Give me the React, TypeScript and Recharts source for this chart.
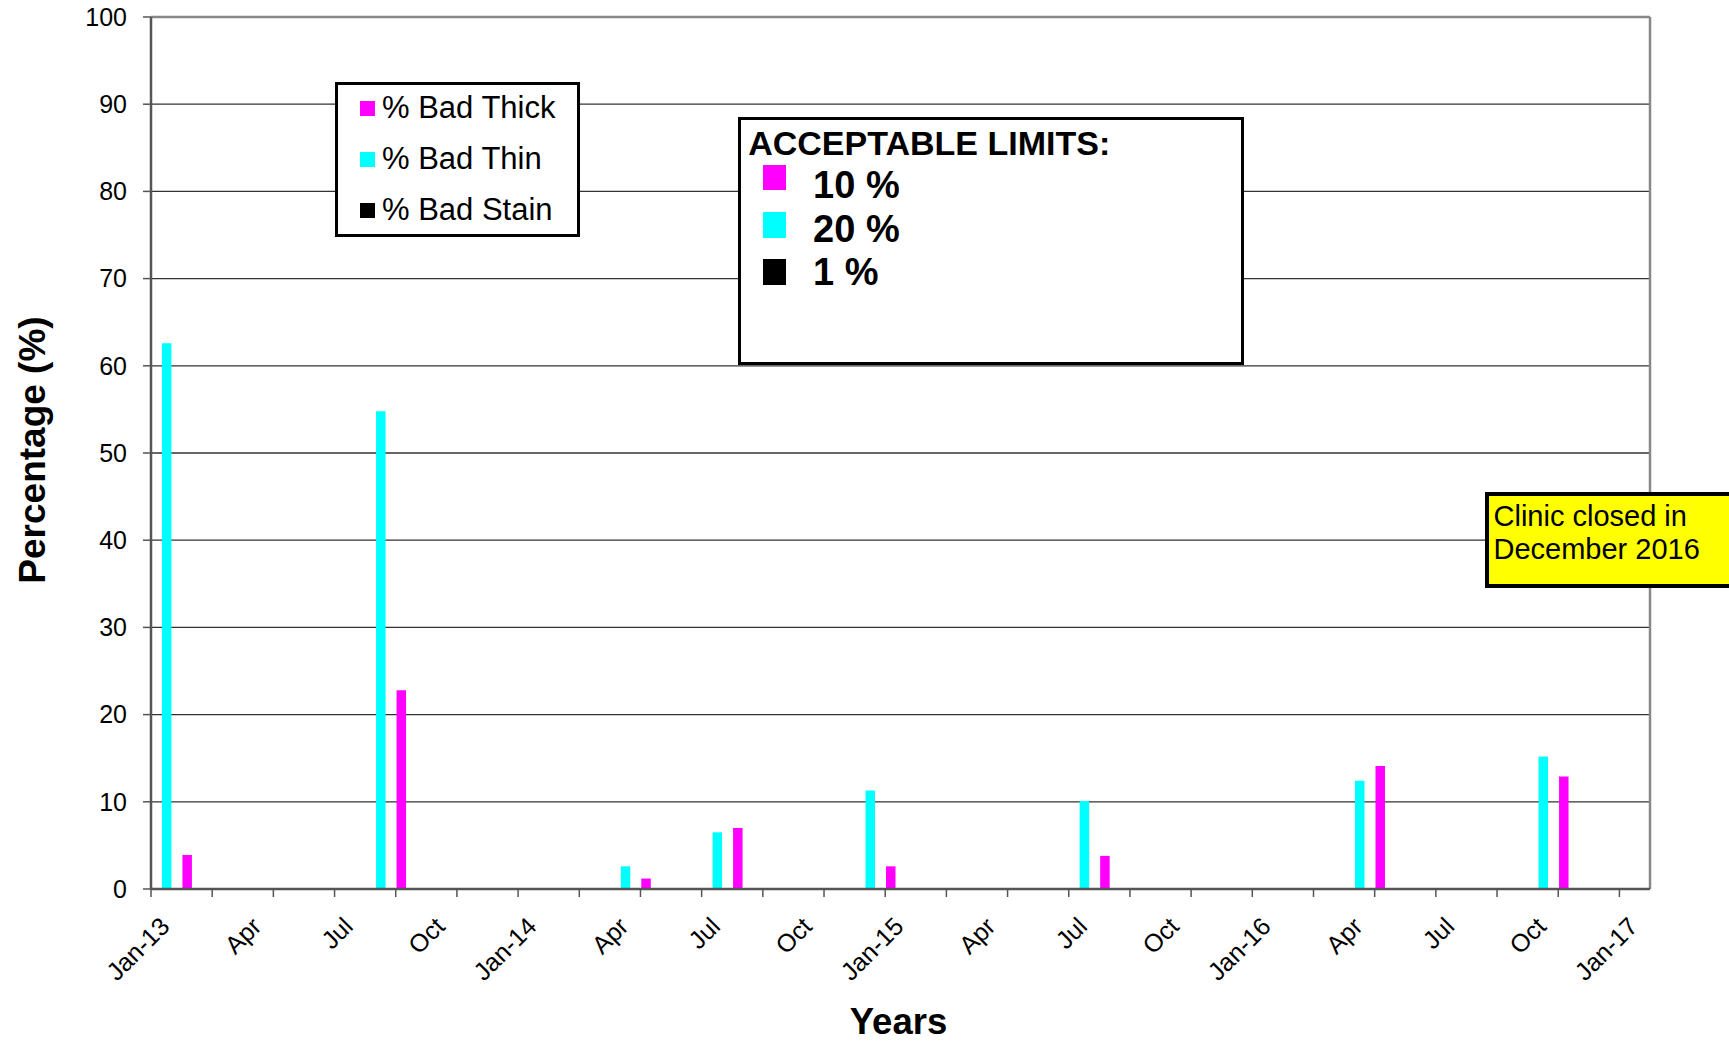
import React from 'react';
import { BarChart, Bar, XAxis, YAxis, CartesianGrid, ReferenceLine, Legend, Label } from 'recharts';

const FONT = '"Liberation Sans", Arial, Helvetica, sans-serif';

// ---- data ----
const sampleMonths = ['2013-01', '2013-08', '2014-04', '2014-07', '2014-12', '2015-07', '2016-04', '2016-10'];
const badThin = [62.6, 54.8, 2.6, 6.5, 11.3, 10.1, 12.4, 15.2];
const badThick = [3.9, 22.8, 1.2, 7.0, 2.6, 3.8, 14.1, 12.9];
const badStain = [0, 0, 0, 0, 0, 0, 0, 0];

const seriesNames = ['% Bad Thick', '% Bad Thin', '% Bad Stain'];
const seriesColors = ['#FF00FF', '#00FFFF', '#000000'];

const yTicks = [0, 10, 20, 30, 40, 50, 60, 70, 80, 90, 100];
const xLabelMonths = [0, 3, 6, 9, 12, 15, 18, 21, 24, 27, 30, 33, 36, 39, 42, 45, 48];
const xLabels = ['Jan-13', 'Apr', 'Jul', 'Oct', 'Jan-14', 'Apr', 'Jul', 'Oct', 'Jan-15', 'Apr', 'Jul', 'Oct', 'Jan-16', 'Apr', 'Jul', 'Oct', 'Jan-17'];
const limitHeading = 'ACCEPTABLE LIMITS:';
const limitLabels = ['10 %', '20 %', '1 %'];
const noteLines = ['Clinic closed in', 'December 2016'];

const START_YEAR = 2013;
const MONTH_COUNT = 49; // Jan-13 .. Jan-17 (monthly slots)
const monthTicks = Array.from({ length: MONTH_COUNT }, (_, i) => i);

// month slot index; values sit in the middle of their month slot
const data = sampleMonths.map((m, i) => {
  const [yy, mm] = m.split('-').map(Number);
  return {
    month: m,
    pos: (yy - START_YEAR) * 12 + (mm - 1) + 0.5,
    stain: badStain[i],
    thin: badThin[i],
    thick: badThick[i],
  };
});

const MonthTick = (props: any) => {
  const { x, y, payload } = props;
  const m = payload.value as number;
  const li = xLabelMonths.indexOf(m);
  const lx = x + 20;
  const ly = y + 31;
  return (
    <g>
      {m % 2 === 0 && <line x1={x} x2={x} y1={y - 8} y2={y} stroke="#555" strokeWidth={1.5} />}
      {li >= 0 && (
        <text
          x={lx}
          y={ly}
          transform={`rotate(-45 ${lx} ${ly})`}
          textAnchor="end"
          fontSize={25}
          fontFamily={FONT}
          fill="#000"
        >
          {xLabels[li]}
        </text>
      )}
    </g>
  );
};

const LegendBox = () => {
  const order = [0, 1, 2];
  return (
    <div
      style={{
        boxSizing: 'border-box',
        width: 245,
        height: 155,
        border: '3.5px solid #000',
        background: '#fff',
        position: 'relative',
        fontFamily: FONT,
      }}
    >
      {order.map((k, i) => (
        <div
          key={k}
          style={{
            position: 'absolute',
            left: 21.5,
            top: 23.3 + i * 51 - 20,
            height: 40,
            display: 'flex',
            alignItems: 'center',
            whiteSpace: 'nowrap',
          }}
        >
          <div style={{ width: 15, height: 15, background: seriesColors[k], marginRight: 7.5 }} />
          <span style={{ fontSize: 31, lineHeight: '40px', color: '#000' }}>{seriesNames[k]}</span>
        </div>
      ))}
    </div>
  );
};

export default function App() {
  return (
    <div style={{ position: 'relative', width: 1729, height: 1041, overflow: 'hidden', background: '#fff' }}>
      <style>{'html,body{margin:0;padding:0;overflow:hidden;background:#fff;}'}</style>
      <BarChart
        width={1729}
        height={1041}
        data={data}
        margin={{ top: 17, right: 79, bottom: 0, left: 0 }}
        barSize={9.5}
        barGap={11}
      >
        <CartesianGrid horizontal vertical={false} stroke="#333" strokeWidth={1.3} />
        <XAxis
          type="number"
          dataKey="pos"
          domain={[0, MONTH_COUNT]}
          ticks={monthTicks}
          interval={0}
          tick={<MonthTick />}
          tickLine={false}
          tickSize={8}
          tickMargin={0}
          height={152}
          axisLine={{ stroke: '#555', strokeWidth: 2.5 }}
        >
          <Label
            content={(p: any) => {
              const vb = p.viewBox || {};
              const cx = (vb.x ?? 151) + (vb.width ?? 1499) / 2 - 2;
              return (
                <text x={cx} y={(vb.y ?? 889) + 145} textAnchor="middle" fontSize={36.5} fontWeight="bold" fontFamily={FONT} fill="#000">
                  Years
                </text>
              );
            }}
          />
        </XAxis>
        <YAxis
          type="number"
          domain={[0, 100]}
          ticks={yTicks}
          interval={0}
          width={151}
          tickSize={8}
          tickMargin={16}
          tick={{ fill: '#000', fontSize: 25, fontFamily: FONT }}
          tickLine={{ stroke: '#555', strokeWidth: 1.5 }}
          axisLine={{ stroke: '#555', strokeWidth: 2.5 }}
        >
          <Label
            content={(p: any) => {
              const vb = p.viewBox || {};
              const cy = (vb.y ?? 17) + (vb.height ?? 872) / 2 - 3;
              const cx = 32;
              return (
                <text
                  x={cx}
                  y={cy}
                  transform={`rotate(-90 ${cx} ${cy})`}
                  textAnchor="middle"
                  dominantBaseline="central"
                  fontSize={37}
                  fontWeight="bold"
                  fontFamily={FONT}
                  fill="#000"
                >
                  Percentage (%)
                </text>
              );
            }}
          />
        </YAxis>
        <ReferenceLine y={100} stroke="#888" strokeWidth={2.5} />
        <ReferenceLine x={MONTH_COUNT} stroke="#888" strokeWidth={2.5} />
        <Legend
          content={<LegendBox />}
          layout="horizontal"
          verticalAlign="middle"
          align="center"
          wrapperStyle={{ position: 'absolute', left: 335, top: 82, width: 245, height: 155 }}
        />
        <Bar dataKey="stain" name={seriesNames[2]} fill={seriesColors[2]} isAnimationActive={false} />
        <Bar dataKey="thin" name={seriesNames[1]} fill={seriesColors[1]} isAnimationActive={false} />
        <Bar dataKey="thick" name={seriesNames[0]} fill={seriesColors[0]} isAnimationActive={false} />
      </BarChart>

      {/* ACCEPTABLE LIMITS box */}
      <div
        style={{
          position: 'absolute',
          left: 738,
          top: 117,
          width: 506,
          height: 248,
          boxSizing: 'border-box',
          border: '3.5px solid #000',
          background: '#fff',
          fontFamily: FONT,
          fontWeight: 'bold',
          color: '#000',
        }}
      >
        <div style={{ position: 'absolute', left: 7.2, top: 155 - 0.8465 * 34 - 120.5, fontSize: 34, lineHeight: '34px', whiteSpace: 'nowrap' }}>
          {limitHeading}
        </div>
        {limitLabels.map((t, i) => {
          const baseline = [199, 242.3, 286][i];
          const sw = [165, 212.5, 259.5][i];
          return (
            <React.Fragment key={t}>
              <div
                style={{
                  position: 'absolute',
                  left: 763 - 741.5,
                  top: sw - 120.5,
                  width: 23,
                  height: 25.5,
                  background: [seriesColors[0], seriesColors[1], seriesColors[2]][i],
                }}
              />
              <div
                style={{
                  position: 'absolute',
                  left: 813.6 - 741.5,
                  top: baseline - 0.8465 * 38 - 120.5,
                  fontSize: 38,
                  lineHeight: '38px',
                  whiteSpace: 'nowrap',
                }}
              >
                {t}
              </div>
            </React.Fragment>
          );
        })}
      </div>

      {/* Clinic closed note */}
      <div
        style={{
          position: 'absolute',
          left: 1485,
          top: 492,
          width: 270,
          height: 95.5,
          boxSizing: 'border-box',
          border: '4px solid #000',
          background: '#FFFF00',
          fontFamily: FONT,
          fontSize: 29,
          lineHeight: '32.6px',
          color: '#000',
          padding: '4px 0 0 4.5px',
          whiteSpace: 'nowrap',
        }}
      >
        {noteLines.map((l) => (
          <div key={l}>{l}</div>
        ))}
      </div>
    </div>
  );
}
